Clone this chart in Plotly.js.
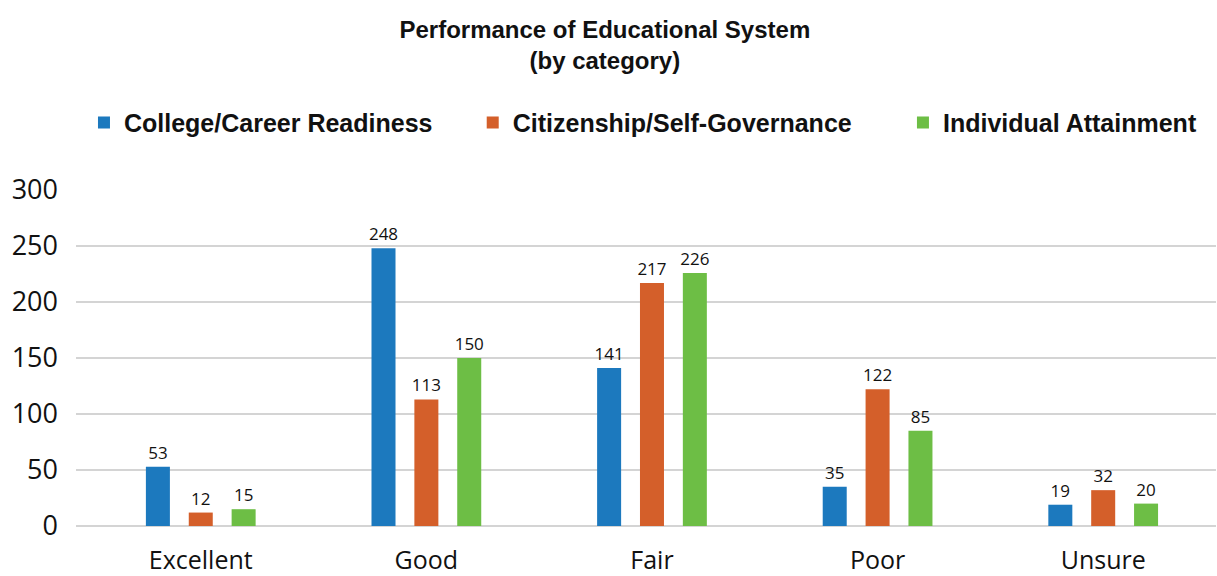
<!DOCTYPE html>
<html>
<head>
<meta charset="utf-8">
<script src="https://cdn.plot.ly/plotly-3.0.1.min.js"></script>
<style>html,body{margin:0;padding:0;background:#fff}#chart{width:1217px;height:576px}</style>
</head>
<body>
<div id="chart"></div>
<script>
const categories = ["Excellent", "Good", "Fair", "Poor", "Unsure"];
const collegeCareer = [53, 248, 141, 35, 19];
const citizenship = [12, 113, 217, 122, 32];
const individual = [15, 150, 226, 85, 20];
const seriesNames = ["College/Career Readiness", "Citizenship/Self-Governance", "Individual Attainment"];
const seriesColors = ["#1c79be", "#d45f2a", "#6dbe45"];
const yTicks = [0, 50, 100, 150, 200, 250, 300];

const seriesValues = [collegeCareer, citizenship, individual];
const legendIds = ["legend", "legend2", "legend3"];
const traces = seriesValues.map((vals, i) => ({
  type: "bar",
  name: seriesNames[i],
  legend: legendIds[i],
  x: categories,
  y: vals,
  text: vals.map(String),
  textposition: "outside",
  constraintext: "none",
  cliponaxis: false,
  textfont: {family: "Open Sans, sans-serif", size: 17, color: "#111"},
  marker: {color: seriesColors[i]},
  hoverinfo: "x+y+name"
}));

const legendFont = {family: "Liberation Sans, Arial, sans-serif", size: 25, color: "#111", weight: "bold"};
function legendAt(xFrac) {
  return {
    orientation: "h",
    x: xFrac, xanchor: "left",
    y: 1.2, yanchor: "middle",
    font: legendFont,
    itemwidth: 30,
    bgcolor: "rgba(0,0,0,0)"
  };
}

const layout = {
  width: 1217,
  height: 576,
  margin: {l: 76, r: 1, t: 190, b: 50},
  paper_bgcolor: "#fff",
  plot_bgcolor: "#fff",
  barmode: "group",
  bargap: 0.43,
  bargroupgap: 0.44,
  title: {
    text: "<b>Performance of Educational System<br>(by category)</b>",
    font: {family: "Liberation Sans, Arial, sans-serif", size: 24, color: "#111"},
    x: 0.497, xanchor: "center",
    yref: "container",
    y: 0.934, yanchor: "middle"
  },
  showlegend: true,
  legend: legendAt(0.007),
  legend2: legendAt(0.348),
  legend3: legendAt(0.7254),
  xaxis: {
    type: "category",
    range: [-0.553, 4.5],
    showgrid: false,
    showline: false,
    zeroline: false,
    ticks: "",
    ticklabelstandoff: 17,
    tickfont: {family: "Open Sans, sans-serif", size: 25, color: "#111"},
    fixedrange: true
  },
  yaxis: {
    range: [0, 300],
    tickvals: yTicks,
    ticktext: yTicks.map(String),
    showgrid: true,
    gridcolor: "#d4d4d4",
    gridwidth: 1.2,
    zeroline: true,
    zerolinecolor: "#d4d4d4",
    zerolinewidth: 1.2,
    showline: false,
    ticks: "",
    ticklabelstandoff: 17,
    tickfont: {family: "Open Sans, sans-serif", size: 27, color: "#111"},
    fixedrange: true
  }
};

Plotly.newPlot("chart", traces, layout, {displayModeBar: false, staticPlot: true});
</script>
</body>
</html>
